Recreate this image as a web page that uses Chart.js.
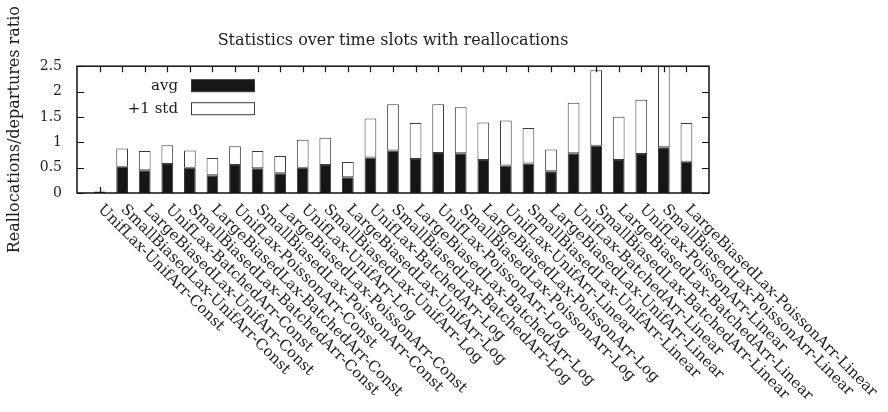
<!DOCTYPE html>
<html>
<head>
<meta charset="utf-8">
<script src="https://cdn.jsdelivr.net/npm/chart.js@4"></script>
<style>
  html, body { margin: 0; padding: 0; background: #fff; }
  #wrap { width: 888px; height: 412px; position: relative; }
</style>
</head>
<body>
<div id="wrap"><canvas id="chart"></canvas></div>
<script>
// Reallocation stats per scenario
const categories = [
  'UnifLax-UnifArr-Const', 'SmallBiasedLax-UnifArr-Const', 'LargeBiasedLax-UnifArr-Const',
  'UnifLax-BatchedArr-Const', 'SmallBiasedLax-BatchedArr-Const', 'LargeBiasedLax-BatchedArr-Const',
  'UnifLax-PoissonArr-Const', 'SmallBiasedLax-PoissonArr-Const', 'LargeBiasedLax-PoissonArr-Const',
  'UnifLax-UnifArr-Log', 'SmallBiasedLax-UnifArr-Log', 'LargeBiasedLax-UnifArr-Log',
  'UnifLax-BatchedArr-Log', 'SmallBiasedLax-BatchedArr-Log', 'LargeBiasedLax-BatchedArr-Log',
  'UnifLax-PoissonArr-Log', 'SmallBiasedLax-PoissonArr-Log', 'LargeBiasedLax-PoissonArr-Log',
  'UnifLax-UnifArr-Linear', 'SmallBiasedLax-UnifArr-Linear', 'LargeBiasedLax-UnifArr-Linear',
  'UnifLax-BatchedArr-Linear', 'SmallBiasedLax-BatchedArr-Linear', 'LargeBiasedLax-BatchedArr-Linear',
  'UnifLax-PoissonArr-Linear', 'SmallBiasedLax-PoissonArr-Linear', 'LargeBiasedLax-PoissonArr-Linear'
];
const avgValues = [0.02, 0.52, 0.45, 0.57, 0.50, 0.35, 0.55, 0.49, 0.39, 0.50, 0.55, 0.31, 0.70, 0.84,
  0.67, 0.79, 0.785, 0.65, 0.54, 0.58, 0.43, 0.785, 0.93, 0.65, 0.77, 0.90, 0.615];
const stdValues = [0.01, 0.357, 0.38, 0.37, 0.34, 0.34, 0.37, 0.34, 0.34, 0.55, 0.54, 0.30, 0.77, 0.91,
  0.71, 0.96, 0.905, 0.74, 0.89, 0.70, 0.43, 0.995, 1.49, 0.855, 1.07, 1.60, 0.765];
const yTicks = [0, 0.5, 1, 1.5, 2, 2.5];

const FONT = 'DejaVu Serif';
const INK = '#1c1c1c';

// gnuplot style x range [-1, 27]: one empty slot on each side
const labels = [''].concat(categories, ['']);
const pad = arr => [null].concat(arr, [null]);

// frame, inward ticks, key and rotated category labels
const gnuplotLook = {
  id: 'gnuplotLook',
  afterDatasetsDraw(chart) {
    const { ctx, chartArea: a, scales: { x, y } } = chart;
    ctx.save();
    ctx.strokeStyle = '#111';
    ctx.lineWidth = 1.2;
    ctx.beginPath();
    yTicks.forEach(v => {
      const py = Math.round(y.getPixelForValue(v)) + 0.5;
      ctx.moveTo(a.left, py); ctx.lineTo(a.left + 7, py);
      ctx.moveTo(a.right, py); ctx.lineTo(a.right - 7, py);
    });
    categories.forEach((c, i) => {
      const px = Math.round(x.getPixelForValue(i + 1)) + 0.5;
      ctx.moveTo(px, a.top); ctx.lineTo(px, a.top + 6);
      ctx.moveTo(px, a.bottom); ctx.lineTo(px, a.bottom - 6);
    });
    ctx.stroke();
    ctx.lineWidth = 1.5;
    ctx.strokeRect(a.left, a.top, a.right - a.left, a.bottom - a.top);

    // key
    ctx.font = '15px "' + FONT + '"';
    ctx.textAlign = 'right';
    ctx.textBaseline = 'middle';
    chart.data.datasets.forEach((ds, k) => {
      const cy = a.top + 19.5 + k * 23;
      ctx.fillStyle = INK;
      ctx.fillText(ds.label, a.left + 101, cy);
      ctx.fillStyle = ds.backgroundColor;
      ctx.fillRect(a.left + 114, cy - 6, 64, 12);
      ctx.strokeStyle = ds.borderColor;
      ctx.lineWidth = 1;
      ctx.strokeRect(a.left + 114.5, cy - 6, 63, 12);
    });

    // category labels, rotated down-right
    ctx.fillStyle = INK;
    ctx.textAlign = 'left';
    ctx.textBaseline = 'alphabetic';
    categories.forEach((c, i) => {
      const px = x.getPixelForValue(i + 1);
      ctx.save();
      ctx.translate(px - 2, a.bottom + 17);
      ctx.rotate(Math.PI / 4);
      ctx.fillText(c, 0, 0);
      ctx.restore();
    });
    ctx.restore();
  }
};

new Chart(document.getElementById('chart'), {
  type: 'bar',
  data: {
    labels: labels,
    datasets: [
      {
        label: 'avg',
        data: pad(avgValues),
        backgroundColor: '#161616',
        borderColor: '#3a3a3a',
        borderWidth: 1,
        borderSkipped: false,
        stack: 's'
      },
      {
        label: '+1 std',
        data: pad(stdValues),
        backgroundColor: '#ffffff',
        borderColor: '#3a3a3a',
        borderWidth: 1,
        borderSkipped: false,
        stack: 's'
      }
    ]
  },
  options: {
    responsive: true,
    maintainAspectRatio: false,
    animation: false,
    layout: { padding: { left: 0, right: 179, top: 0, bottom: 0 } },
    datasets: { bar: { barPercentage: 0.52, categoryPercentage: 1 } },
    plugins: {
      legend: { display: false },
      tooltip: { enabled: false },
      title: {
        display: true,
        text: 'Statistics over time slots with reallocations',
        fullSize: false,
        color: INK,
        font: { family: FONT, size: 16, weight: 'normal' },
        padding: { top: 31, bottom: 16 }
      }
    },
    scales: {
      x: {
        type: 'category',
        stacked: true,
        offset: false,
        grid: { display: false, drawTicks: false },
        border: { display: false },
        ticks: { display: false },
        afterFit: s => { s.height = 219; }
      },
      y: {
        stacked: true,
        min: 0,
        max: 2.5,
        grid: { display: false, drawTicks: false },
        border: { display: false },
        ticks: {
          stepSize: 0.5,
          padding: 15,
          color: INK,
          font: { family: FONT, size: 14 },
          callback: v => String(+v.toFixed(1))
        },
        title: {
          display: true,
          text: 'Reallocations/departures ratio',
          color: INK,
          font: { family: FONT, size: 16 },
          padding: { top: 5, bottom: 0 }
        },
        afterFit: s => { s.width = 77; }
      }
    }
  },
  plugins: [gnuplotLook]
});
</script>
</body>
</html>
